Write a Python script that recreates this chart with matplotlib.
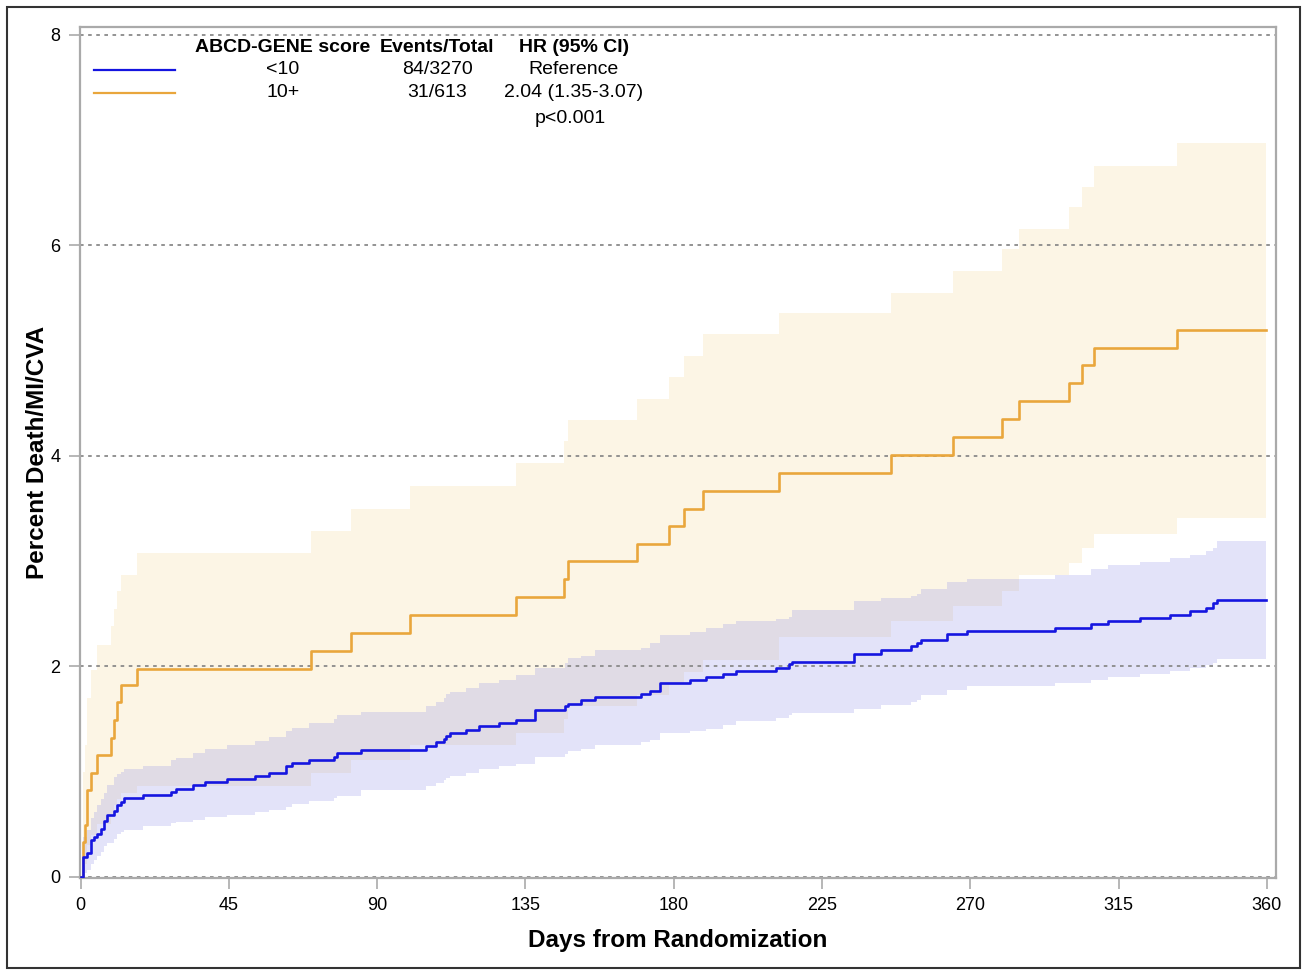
import matplotlib
matplotlib.use("Agg")
import matplotlib.pyplot as plt
from matplotlib.patches import Rectangle

plt.rcParams['font.family'] = ['Liberation Sans', 'DejaVu Sans']

# ABCD-GENE score <10 (KM curve + 95% CI)
low_days = [0.0, 0.7, 1.8, 3.0, 4.0, 5.1, 6.1, 7.1, 8.1, 10.1, 11.1, 12.1, 13.1,
            18.9, 27.3, 29.0, 34.0, 37.6, 44.3, 53.0, 57.1, 62.2, 64.0, 69.3,
            77.0, 77.9, 85.1, 104.7, 107.9, 110.2, 111.0, 112.0, 117.0, 121.0,
            127.0, 132.0, 138.0, 146.9, 147.8, 152.0, 156.0, 170.0, 172.9,
            175.8, 185.0, 189.9, 195.0, 199.0, 211.0, 215.0, 215.9, 234.8,
            242.9, 252.0, 253.8, 255.0, 262.9, 268.9, 295.7, 306.6, 311.9,
            321.5, 330.6, 336.7, 341.7, 343.6, 344.8, 359.7]
low_pct = [0.00, 0.19, 0.23, 0.35, 0.38, 0.41, 0.46, 0.53, 0.59, 0.63, 0.68, 0.71,
           0.75, 0.78, 0.81, 0.84, 0.87, 0.90, 0.93, 0.96, 0.99, 1.05, 1.08, 1.11,
           1.14, 1.18, 1.21, 1.24, 1.28, 1.31, 1.34, 1.37, 1.40, 1.43, 1.46, 1.49,
           1.59, 1.62, 1.64, 1.68, 1.71, 1.74, 1.77, 1.84, 1.87, 1.90, 1.93, 1.96,
           1.99, 2.02, 2.04, 2.12, 2.16, 2.19, 2.22, 2.25, 2.31, 2.34, 2.37, 2.40,
           2.43, 2.46, 2.49, 2.53, 2.56, 2.60, 2.63, 2.63]
low_lo = [0.00, 0.04, 0.07, 0.12, 0.16, 0.20, 0.24, 0.29, 0.32, 0.36, 0.41, 0.43,
          0.45, 0.48, 0.51, 0.52, 0.54, 0.57, 0.59, 0.62, 0.64, 0.66, 0.69, 0.72,
          0.75, 0.77, 0.83, 0.86, 0.89, 0.92, 0.94, 0.96, 0.99, 1.03, 1.05, 1.07,
          1.14, 1.17, 1.20, 1.22, 1.25, 1.28, 1.30, 1.37, 1.39, 1.41, 1.44, 1.48,
          1.51, 1.54, 1.56, 1.60, 1.63, 1.66, 1.68, 1.73, 1.78, 1.81, 1.84, 1.87,
          1.90, 1.93, 1.96, 1.99, 2.01, 2.03, 2.07, 2.07]
low_hi = [0.00, 0.38, 0.45, 0.56, 0.62, 0.68, 0.74, 0.80, 0.87, 0.95, 0.98, 1.00,
          1.03, 1.05, 1.11, 1.13, 1.18, 1.22, 1.25, 1.29, 1.33, 1.39, 1.42, 1.46,
          1.50, 1.54, 1.57, 1.62, 1.66, 1.70, 1.74, 1.76, 1.80, 1.84, 1.87, 1.92,
          1.99, 2.03, 2.08, 2.10, 2.16, 2.18, 2.22, 2.30, 2.33, 2.37, 2.40, 2.43,
          2.45, 2.47, 2.54, 2.62, 2.65, 2.67, 2.69, 2.74, 2.80, 2.83, 2.87, 2.93,
          2.96, 2.99, 3.03, 3.06, 3.10, 3.13, 3.19, 3.19]

# ABCD-GENE score 10+
high_days = [0.0, 0.7, 1.2, 2.0, 3.0, 5.1, 9.1, 10.1, 11.1, 12.1, 17.2, 70.0, 82.0,
             99.9, 132.0, 146.8, 147.8, 169.0, 178.7, 183.0, 188.9, 211.9, 245.8,
             264.7, 279.7, 284.9, 299.9, 303.8, 307.7, 332.7, 359.7]
high_pct = [0.00, 0.33, 0.49, 0.83, 0.99, 1.16, 1.32, 1.49, 1.66, 1.82, 1.98, 2.15,
            2.32, 2.49, 2.66, 2.83, 3.00, 3.16, 3.33, 3.50, 3.67, 3.84, 4.01, 4.18,
            4.35, 4.52, 4.69, 4.86, 5.03, 5.20, 5.20]
high_lo = [0.00, 0.05, 0.12, 0.30, 0.40, 0.50, 0.60, 0.68, 0.74, 0.80, 0.86, 0.99,
           1.11, 1.25, 1.37, 1.50, 1.62, 1.73, 1.84, 1.95, 2.06, 2.28, 2.43, 2.57,
           2.72, 2.87, 2.98, 3.13, 3.26, 3.41, 3.41]
high_hi = [0.00, 1.00, 1.25, 1.70, 1.97, 2.20, 2.38, 2.55, 2.72, 2.87, 3.08, 3.29,
           3.50, 3.71, 3.93, 4.14, 4.34, 4.54, 4.75, 4.95, 5.16, 5.36, 5.55, 5.76,
           5.97, 6.16, 6.37, 6.56, 6.76, 6.97, 6.97]

x_ticks = [0, 45, 90, 135, 180, 225, 270, 315, 360]
y_ticks = [0, 2, 4, 6, 8]

legend_head = ["ABCD-GENE score", "Events/Total", "HR (95% CI)"]
legend_rows = [["<10", "84/3270", "Reference"],
               ["10+", "31/613", "2.04 (1.35-3.07)"]]
p_text = "p<0.001"

blue = "#1515e0"
orange = "#e9a63c"

fig = plt.figure(figsize=(13.03, 9.71), dpi=100)
ax = fig.add_axes([80 / 1303, 93 / 971, 1196 / 1303, 851 / 971])

ax.fill_between(high_days, high_lo, high_hi, step="post", color="#f5d89a",
                alpha=0.25, linewidth=0, zorder=1)
ax.fill_between(low_days, low_lo, low_hi, step="post", color="#9090e8",
                alpha=0.25, linewidth=0, zorder=1.1)

for yv in y_ticks:
    ax.axhline(yv, color="#8a8a8a", lw=1.3, ls=(0, (2, 2.5)), zorder=1.5)

ax.step(high_days, high_pct, where="post", color=orange, lw=1.9, zorder=3)
ax.step(low_days, low_pct, where="post", color=blue, lw=1.9, zorder=3)

ax.set_xlim(-0.2, 362.8)
ax.set_ylim(-0.01, 8.076)
ax.set_xticks(x_ticks)
ax.set_yticks(y_ticks)
for s in ax.spines.values():
    s.set_color("#aaaaaa")
    s.set_linewidth(1.6)
ax.tick_params(colors="#aaaaaa", labelcolor="black", labelsize=13,
               length=8, width=1.2, pad=6)

# legend table
cols = [0.1697, 0.2985, 0.413]
for x, h in zip(cols, legend_head):
    ax.text(x, 0.976, h, transform=ax.transAxes, ha="center", va="center",
            fontsize=14, fontweight="bold")
row_y = [0.950, 0.923]
for yy, row, c in zip(row_y, legend_rows, [blue, orange]):
    ax.plot([0.0117, 0.0794], [yy, yy], transform=ax.transAxes, color=c, lw=1.6)
    for x, t in zip(cols, row):
        ax.text(x, yy, t, transform=ax.transAxes, ha="center", va="center",
                fontsize=14)
ax.text(0.4097, 0.893, p_text, transform=ax.transAxes, ha="center",
        va="center", fontsize=14)

fig.text(38 / 1303, 1 - 452 / 971, "Percent Death/MI/CVA", rotation=90,
         ha="center", va="center", fontsize=17.5, fontweight="bold")
fig.text(678 / 1303, 1 - 940 / 971, "Days from Randomization",
         ha="center", va="center", fontsize=17.5, fontweight="bold")

fig.patches.append(Rectangle((7 / 1303, 3 / 971), 1293 / 1303, 961 / 971,
                             transform=fig.transFigure, fill=False,
                             edgecolor="#333333", lw=1.5))

fig.savefig("out.png", dpi=100)
